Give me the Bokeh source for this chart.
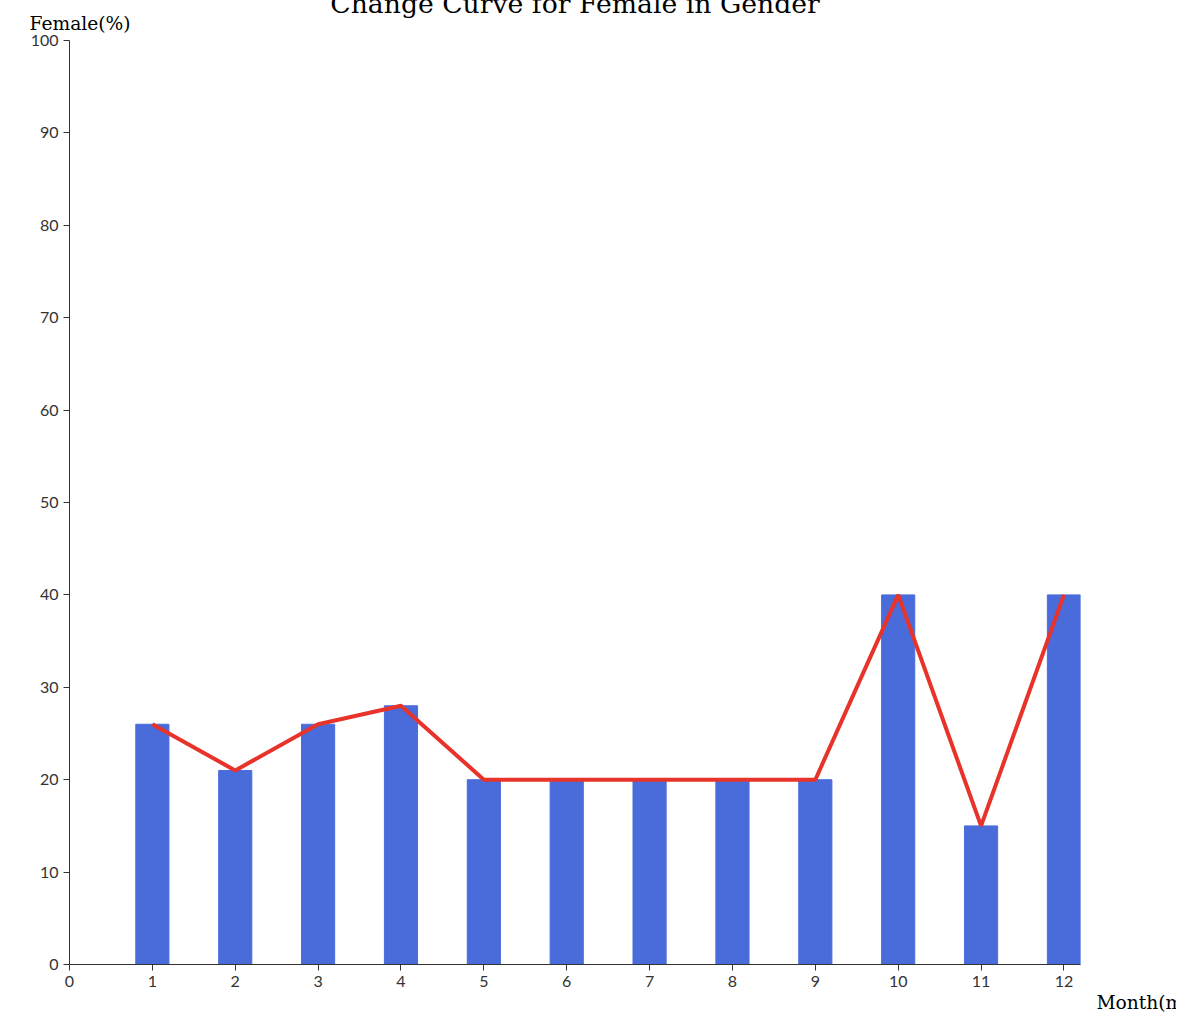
from bokeh.plotting import figure
from bokeh.models import FixedTicker, Range1d, Title
from bokeh.embed import file_html
from bokeh.resources import INLINE

months = [1,2,3,4,5,6,7,8,9,10,11,12]
female = [26,21,26,28,20,20,20,20,20,40,15,40]

p = figure(width=1176, height=1012, output_backend="svg", toolbar_location=None,
           x_range=Range1d(0, 12.2), y_range=Range1d(0, 100), title=None,
           min_border_left=69, min_border_top=10, min_border_bottom=40, min_border_right=96)
p.outline_line_color = None
p.xgrid.visible = False
p.ygrid.visible = False

p.add_layout(Title(text="Female(%)", text_font="DejaVu Serif", text_font_size="14pt",
                   text_font_style="normal", text_color="black", align="left",
                   offset=-40, standoff=14), "above")
p.add_layout(Title(text="Change Curve for Female in Gender", text_font="DejaVu Serif",
                   text_font_size="20pt", text_font_style="normal", text_color="black",
                   align="center", offset=80, standoff=-30), "above")
p.add_layout(Title(text="Month(m)", text_font="DejaVu Serif", text_font_size="14pt",
                   text_font_style="normal", text_color="black", align="right",
                   offset=-110, standoff=0), "below")

p.vbar(x=months, top=female, width=0.4, color="#4a6cdb")
p.line(months, female, line_color="#e8332a", line_width=4)

for ax in (p.xaxis, p.yaxis):
    ax.axis_line_color = "#333333"
    ax.major_tick_line_color = "#333333"
    ax.minor_tick_line_color = None
    ax.major_label_text_font = "Lato"
    ax.major_label_text_font_size = "12pt"
    ax.major_label_text_color = "#333333"
    ax.major_tick_in = 0
    ax.major_tick_out = 6
p.xaxis.ticker = FixedTicker(ticks=list(range(0, 13)))
p.yaxis.ticker = FixedTicker(ticks=list(range(0, 101, 10)))

open("out.html", "w").write(file_html(p, INLINE))
